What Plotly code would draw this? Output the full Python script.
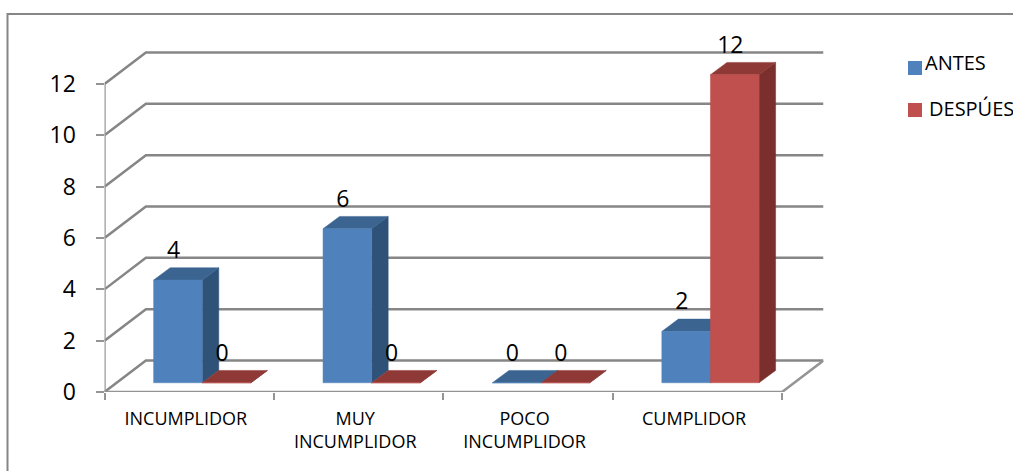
import plotly.graph_objects as go

# Chart data
categories = ["INCUMPLIDOR", "MUY<br>INCUMPLIDOR", "POCO<br>INCUMPLIDOR", "CUMPLIDOR"]
antes = [4, 6, 0, 2]
despues = [0, 0, 0, 12]
y_ticks = [0, 2, 4, 6, 8, 10, 12]

# Page and plot geometry (pixels)
W, H = 1013, 471
LEFT, RIGHT, BOTTOM, TOP, AXIS_TOP = 104.5, 823.5, 392, 52.5, 25
CAT_PX, UNIT_PX = 169.4, 25.67
FONT = "Open Sans"
GRID = "#868686"

# Projection of the 3D box, in axis units
WALL_DX, WALL_DY = (RIGHT - LEFT - 4 * CAT_PX) / CAT_PX, (BOTTOM - TOP - 12 * UNIT_PX) / UNIT_PX
BAR_START, BAR_W = 0.29, 0.287
BAR_BASE = 0.36
DEPTH_DX, DEPTH_DY = 0.0976, 0.48
LABEL_DY = 1.08
CATEGORY_LABEL_POS = 0.48

STYLES = [
    ("ANTES", antes, "#4F81BD", "#3B6491", "#2F5279"),
    ("DESPÚES", despues, "#C0504D", "#8F3937", "#7A2F2D"),
]

fig = go.Figure()


def line(xs, ys, color=GRID, width=2.5):
    fig.add_trace(go.Scatter(x=xs, y=ys, mode="lines", hoverinfo="skip", showlegend=False,
                             line=dict(color=color, width=width)))


def face(xs, ys, color, name, value):
    fig.add_trace(go.Scatter(x=xs + xs[:1], y=ys + ys[:1], mode="lines", fill="toself",
                             fillcolor=color, line=dict(color=color, width=0.5),
                             showlegend=False, name=name, hoverinfo="name+text",
                             text=[str(value)] * (len(xs) + 1)))


# Back wall grid lines with their slanted run down to the value axis
for t in y_ticks:
    line([0, WALL_DX, 4 + WALL_DX], [t, t + WALL_DY, t + WALL_DY])

# Value axis, category axis and the right edge of the floor
line([0, 0], [0, 12], color="#9A9A9A")
line([0, 4, 4 + WALL_DX], [0, 0, WALL_DY], color="#949494")

# Bars: side, top and front face of each box, nearest series last
label_x, label_y, label_text = [], [], []
for i in range(len(categories)):
    for s, (name, values, front, top, side) in enumerate(STYLES):
        v = values[i]
        x0 = i + BAR_START + s * BAR_W
        x1 = x0 + BAR_W
        y0 = BAR_BASE
        y1 = BAR_BASE + v
        face([x1, x1 + DEPTH_DX, x1 + DEPTH_DX, x1],
             [y0, y0 + DEPTH_DY, y1 + DEPTH_DY, y1], side, name, v)
        face([x0, x1, x1 + DEPTH_DX, x0 + DEPTH_DX],
             [y1, y1, y1 + DEPTH_DY, y1 + DEPTH_DY], top, name, v)
        face([x0, x1, x1, x0], [y0, y0, y1, y1], front, name, v)
        label_x.append(x0 + BAR_W / 2 - 0.026)
        label_y.append(y1 + LABEL_DY)
        label_text.append(str(v))

# Value labels above the boxes
fig.add_trace(go.Scatter(x=label_x, y=label_y, text=label_text, mode="text",
                         textposition="middle center", hoverinfo="skip", showlegend=False,
                         textfont=dict(family=FONT, size=23, color="#000000"), cliponaxis=False))

# Key on the right
shapes = [dict(type="rect", xref="paper", yref="paper", x0=7.5 / W, x1=1.02, y0=-0.02,
               y1=1 - 14 / H, line=dict(color=GRID, width=2), layer="below")]
annotations = []
for (name, _, front, _, _), top_px, text_x, text_y in zip(STYLES, [61, 103], [926, 930], [63, 109]):
    shapes.append(dict(type="rect", xref="paper", yref="paper", x0=908 / W, x1=922 / W,
                       y0=1 - (top_px + 14) / H, y1=1 - top_px / H,
                       fillcolor=front, line=dict(width=0)))
    annotations.append(dict(xref="paper", yref="paper", x=text_x / W, y=1 - text_y / H,
                            xanchor="left", yanchor="middle", showarrow=False, text=name,
                            font=dict(family=FONT, size=20, color="#000000"),
                            xshift=-1, borderpad=0, borderwidth=0))

fig.update_layout(
    width=W, height=H, autosize=False,
    margin=dict(l=0, r=0, t=0, b=0),
    paper_bgcolor="white", plot_bgcolor="rgba(0,0,0,0)",
    showlegend=False, shapes=shapes, annotations=annotations,
    xaxis=dict(
        domain=[LEFT / W, RIGHT / W], range=[0, 4 + WALL_DX], showgrid=False, zeroline=False,
        showline=False, tickmode="array",
        tickvals=[i + CATEGORY_LABEL_POS for i in range(len(categories))],
        ticktext=categories, ticks="", automargin=False, ticklabelstandoff=14,
        tickfont=dict(family=FONT, size=18, color="#000000"),
        minor=dict(tickmode="array", tickvals=[0, 1, 2, 3, 4], ticks="outside", ticklen=7,
                   tickcolor="#949494", tickwidth=2, showgrid=False),
    ),
    yaxis=dict(
        domain=[1 - BOTTOM / H, 1 - AXIS_TOP / H], range=[0, (BOTTOM - AXIS_TOP) / UNIT_PX],
        showgrid=False, zeroline=False, showline=False, tickmode="array", tickvals=y_ticks,
        ticks="outside", ticklen=8, tickcolor="#949494", tickwidth=2, automargin=False,
        ticklabelstandoff=15,
        tickfont=dict(family=FONT, size=23, color="#000000"),
    ),
)

fig.write_html("out.html", config=dict(displayModeBar=False))
